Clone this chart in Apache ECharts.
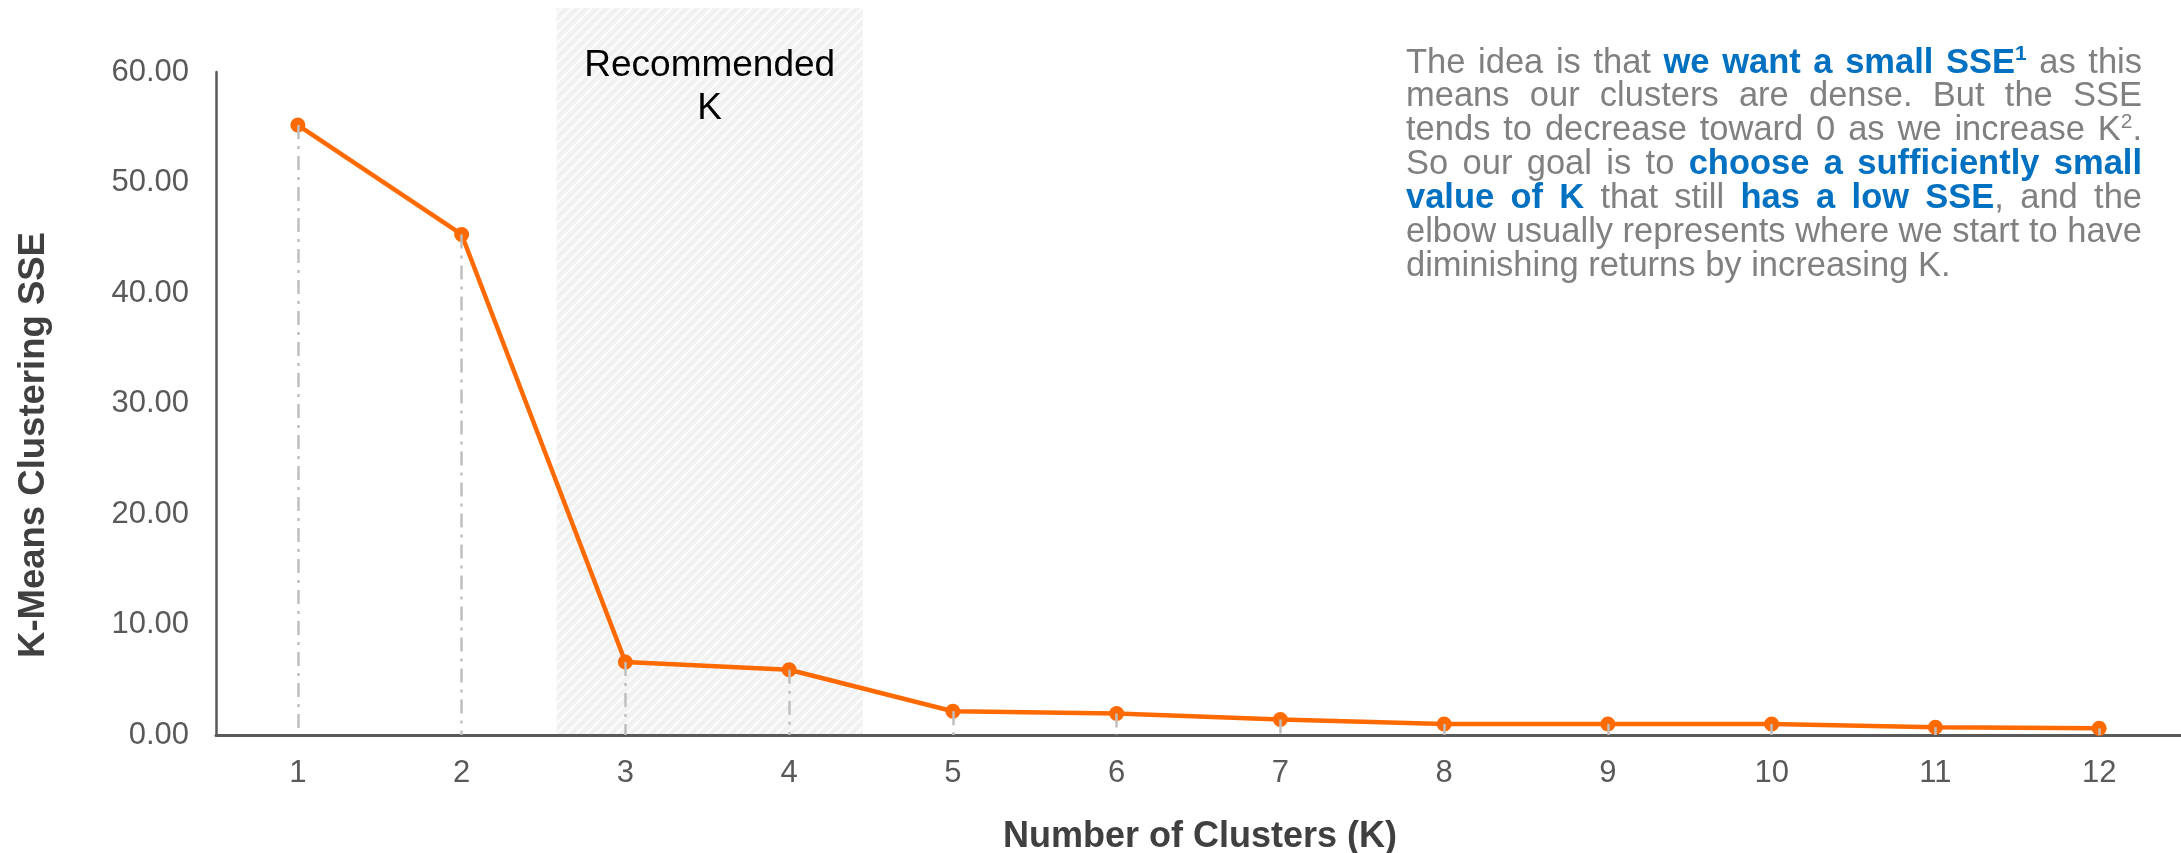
<!DOCTYPE html>
<html>
<head>
<meta charset="utf-8">
<title>K-Means Elbow Chart</title>
<script src="https://cdn.jsdelivr.net/npm/echarts@6/dist/echarts.min.js"></script>
<style>
  html, body { margin: 0; padding: 0; background: #ffffff; }
  #chart { width: 2181px; height: 853px; }
</style>
</head>
<body>
<div id="chart"></div>
<script>
// Number of clusters tried
const categories = ['1', '2', '3', '4', '5', '6', '7', '8', '9', '10', '11', '12'];
// Sum of squared errors for each K
const sseValues = [55.2, 45.3, 6.6, 5.9, 2.15, 1.95, 1.4, 1.0, 1.0, 1.0, 0.7, 0.6];
// Y axis ticks
const yTickMin = 0;
const yTickMax = 60;
const yTickStep = 10;
// Recommended K range (in category units, 1-based)
const recommendedFrom = 2.58;
const recommendedTo = 4.45;

const yAxisTitle = 'K-Means Clustering SSE';
const xAxisTitle = 'Number of Clusters (K)';
const bandLabel = 'Recommended\nK';

// Explanatory note: each line is a list of [text, style] runs
// styles: n = normal grey, b = bold blue, bs = bold blue superscript, s = grey superscript
const noteLines = [
  [['The idea is that ', 'n'], ['we want a small SSE', 'b'], ['1', 'bs'], [' as this', 'n']],
  [['means our clusters are dense. But the SSE', 'n']],
  [['tends to decrease toward 0 as we increase K', 'n'], ['2', 's'], ['.', 'n']],
  [['So our goal is to ', 'n'], ['choose a sufficiently small', 'b']],
  [['value of K', 'b'], [' that still ', 'n'], ['has a low SSE', 'b'], [', and the', 'n']],
  [['elbow usually represents where we start to have', 'n']],
  [['diminishing returns by increasing K.', 'n']]
];

const FONT = '"Liberation Sans", Arial, Helvetica, sans-serif';
const AXIS_GREY = '#595959';
const ORANGE = '#ff6a00';

const chart = echarts.init(document.getElementById('chart'), null, { renderer: 'canvas' });

chart.setOption({
  backgroundColor: '#ffffff',
  animation: false,
  grid: { left: 216, right: 0, top: 72, bottom: 118, containLabel: false },
  xAxis: [
    {
      type: 'category',
      data: categories,
      boundaryGap: true,
      axisLine: { show: true, lineStyle: { color: AXIS_GREY, width: 3 } },
      axisTick: { show: false },
      splitLine: { show: false },
      axisLabel: { color: AXIS_GREY, fontSize: 31, fontFamily: FONT, margin: 23 }
    },
    {
      // helper scale used to place the recommended band
      type: 'value',
      min: 0.5,
      max: 12.5,
      show: false,
      position: 'bottom'
    }
  ],
  yAxis: {
    type: 'value',
    min: yTickMin,
    max: yTickMax,
    interval: yTickStep,
    axisLine: { show: true, lineStyle: { color: AXIS_GREY, width: 2.5 } },
    axisTick: { show: false },
    splitLine: { show: false },
    axisLabel: {
      color: AXIS_GREY,
      fontSize: 31,
      fontFamily: FONT,
      margin: 27,
      formatter: v => v.toFixed(2)
    }
  },
  series: [
    {
      // vertical drop lines from each point to the axis
      type: 'line',
      name: 'drop',
      data: sseValues,
      z: 1,
      symbol: 'none',
      silent: true,
      lineStyle: { opacity: 0 },
      markLine: {
        silent: true,
        symbol: 'none',
        label: { show: false },
        lineStyle: { color: '#bfbfbf', width: 2.5, type: [14, 7, 3, 7] },
        data: sseValues.map((v, i) => [
          { coord: [i, v] },
          { coord: [i, 0] }
        ])
      }
    },
    {
      type: 'line',
      name: 'SSE',
      data: sseValues,
      z: 3,
      symbol: 'circle',
      symbolSize: 15,
      itemStyle: { color: ORANGE },
      lineStyle: { color: ORANGE, width: 4.5 }
    }
  ]
});

// Hatched fill for the recommended band
function makeHatch() {
  const c = document.createElement('canvas');
  const s = 10;
  c.width = s; c.height = s;
  const g = c.getContext('2d');
  g.fillStyle = '#f1f1f1';
  g.fillRect(0, 0, s, s);
  g.strokeStyle = '#fbfbfb';
  g.lineWidth = 2.6;
  g.beginPath();
  g.moveTo(-s / 2, s / 2); g.lineTo(s / 2, -s / 2);
  g.moveTo(0, s); g.lineTo(s, 0);
  g.moveTo(s / 2, s * 1.5); g.lineTo(s * 1.5, s / 2);
  g.stroke();
  return c;
}

const bandLeft = chart.convertToPixel({ xAxisIndex: 1 }, recommendedFrom);
const bandRight = chart.convertToPixel({ xAxisIndex: 1 }, recommendedTo);
const axisBottom = chart.convertToPixel({ yAxisIndex: 0 }, yTickMin);
const bandTop = 8;

// Note text layout: justified lines with per-word runs
const measureCtx = document.createElement('canvas').getContext('2d');
const NOTE_SIZE = 34.5;
const SUP_SIZE = 21;
const NOTE_LEFT = 1406;
const NOTE_RIGHT = 2142;
const NOTE_TOP = 63;
const NOTE_LINE = 33.9;
const NOTE_GREY = '#808080';
const NOTE_BLUE = '#0070c0';

function runFont(st) {
  const bold = st === 'b' || st === 'bs';
  const sup = st === 'bs' || st === 's';
  return (bold ? 'bold ' : '') + (sup ? SUP_SIZE : NOTE_SIZE) + 'px ' + FONT;
}
function runWidth(r) {
  measureCtx.font = runFont(r.st);
  return measureCtx.measureText(r.t).width;
}
function toWords(segs) {
  const words = [[]];
  segs.forEach(([txt, st]) => {
    txt.split(' ').forEach((p, k) => {
      if (k > 0) words.push([]);
      if (p) words[words.length - 1].push({ t: p, st: st });
    });
  });
  return words.filter(w => w.length);
}

const noteElements = [];
measureCtx.font = NOTE_SIZE + 'px ' + FONT;
const spaceW = measureCtx.measureText(' ').width;
noteLines.forEach((segs, li) => {
  const words = toWords(segs);
  const widths = words.map(w => w.reduce((a, r) => a + runWidth(r), 0));
  const total = widths.reduce((a, b) => a + b, 0);
  const last = li === noteLines.length - 1;
  const gap = (!last && words.length > 1) ? (NOTE_RIGHT - NOTE_LEFT - total) / (words.length - 1) : spaceW;
  const cy = NOTE_TOP + li * NOTE_LINE;
  let x = NOTE_LEFT;
  words.forEach((w) => {
    w.forEach(r => {
      const sup = r.st === 'bs' || r.st === 's';
      noteElements.push({
        type: 'text',
        z: 10,
        silent: true,
        style: {
          text: r.t,
          x: x,
          y: sup ? cy - 9 : cy,
          font: runFont(r.st),
          fill: (r.st === 'b' || r.st === 'bs') ? NOTE_BLUE : NOTE_GREY,
          align: 'left',
          verticalAlign: 'middle'
        }
      });
      x += runWidth(r);
    });
    x += gap;
  });
});

chart.setOption({
  graphic: [
    {
      type: 'rect',
      z: -10,
      silent: true,
      shape: { x: bandLeft, y: bandTop, width: bandRight - bandLeft, height: axisBottom - bandTop },
      style: { fill: { image: makeHatch(), repeat: 'repeat' } }
    },
    {
      type: 'text',
      z: 10,
      silent: true,
      style: {
        text: bandLabel,
        x: (bandLeft + bandRight) / 2,
        y: 44,
        font: '37px ' + FONT,
        lineHeight: 43,
        fill: '#000000',
        align: 'center',
        verticalAlign: 'top'
      }
    },
    {
      type: 'text',
      z: 10,
      silent: true,
      x: 34,
      y: 445,
      rotation: Math.PI / 2,
      style: {
        text: yAxisTitle,
        x: 0,
        y: 0,
        font: 'bold 36.5px ' + FONT,
        fill: '#404040',
        align: 'center',
        verticalAlign: 'middle'
      }
    },
    {
      type: 'text',
      z: 10,
      silent: true,
      style: {
        text: xAxisTitle,
        x: 1200,
        y: 837,
        font: 'bold 36px ' + FONT,
        fill: '#404040',
        align: 'center',
        verticalAlign: 'middle'
      }
    }
  ].concat(noteElements)
});
</script>
</body>
</html>
